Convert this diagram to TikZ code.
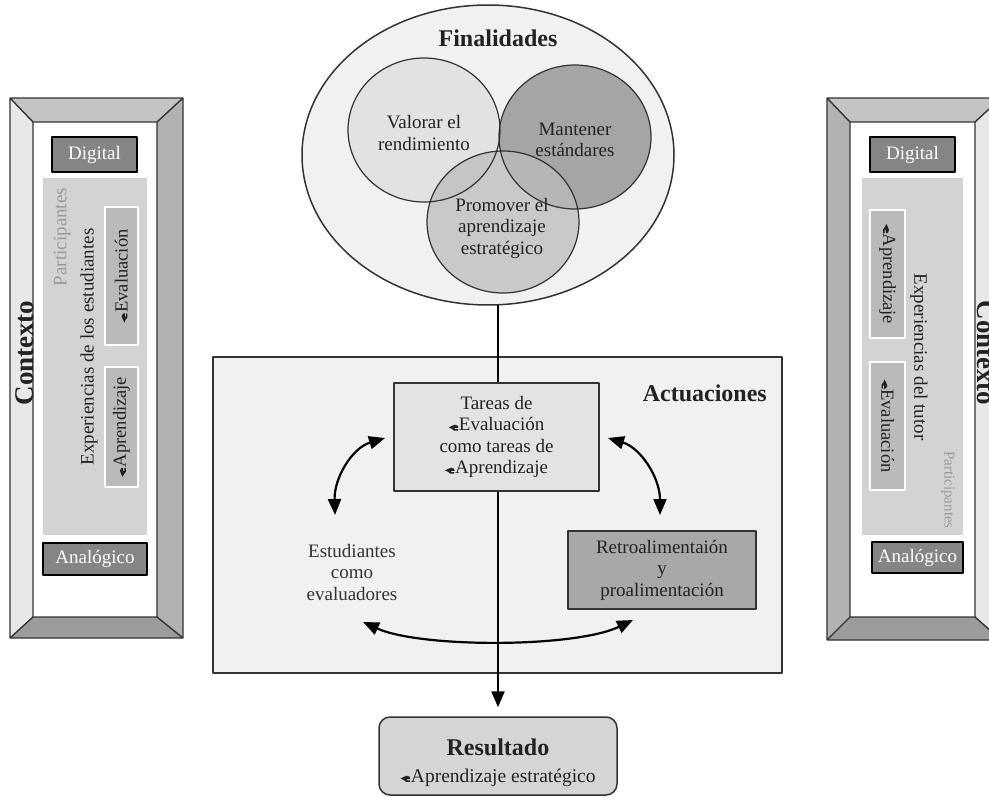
\documentclass[tikz,border=0pt]{standalone}
\usepackage{fontspec}
\setmainfont{Liberation Serif}
\usetikzlibrary{arrows.meta,shapes.geometric}

\definecolor{ink}{HTML}{222222}
\definecolor{edge}{HTML}{333333}
\definecolor{ellfill}{HTML}{F1F1F1}
\definecolor{valfill}{HTML}{E2E2E2}
\definecolor{manfill}{HTML}{A5A5A5}
\definecolor{profill}{HTML}{BCBCBC}
\definecolor{actfill}{HTML}{F0F1F1}
\definecolor{tarfill}{HTML}{E3E3E3}
\definecolor{retfill}{HTML}{A8A8A8}
\definecolor{resfill}{HTML}{D5D5D5}
\definecolor{tagfill}{HTML}{858585}
\definecolor{partfill}{HTML}{D3D3D3}
\definecolor{expfill}{HTML}{BABABA}
\definecolor{palegray}{HTML}{9A9A9A}
\definecolor{bevtop}{HTML}{C4C4C4}
\definecolor{bevlight}{HTML}{E8E8E8}
\definecolor{bevmid}{HTML}{B2B2B2}
\definecolor{bevbot}{HTML}{9C9C9C}

% small e-learning mark placed before some words
\newcommand{\emk}{\tikz[x=1em,y=1em,baseline=0pt]{\fill[ink]
  (0,0.17) .. controls (0.12,0.2) and (0.2,0.32) .. (0.33,0.32)
  .. controls (0.46,0.32) and (0.53,0.24) .. (0.51,0.15) -- (0.29,0.15)
  .. controls (0.31,0.08) and (0.4,0.06) .. (0.5,0.09) -- (0.48,0.01)
  .. controls (0.36,-0.03) and (0.2,0.01) .. (0.14,0.12) -- cycle;}\kern0.01em}

\begin{document}
\begin{tikzpicture}[x=1pt,y=-1pt,line join=round,
  txt/.style={font=\fontsize{19}{21.5}\selectfont, text=ink, align=center, inner sep=0pt},
  ttl/.style={font=\fontsize{24}{28}\selectfont\bfseries, text=ink, inner sep=0pt},
  ctx/.style={font=\fontsize{27}{30}\selectfont\bfseries, text=ink, inner sep=0pt},
  tagbox/.style={draw=black, line width=1.5pt, fill=tagfill, text=white,
    font=\fontsize{19}{21.5}\selectfont, inner sep=0pt},
  expbox/.style={draw=white, line width=1.3pt, fill=expfill, text=ink,
    font=\fontsize{18.5}{21}\selectfont, inner sep=0pt},
  partarea/.style={fill=partfill, draw=none, inner sep=0pt},
  pale/.style={text=palegray, font=\fontsize{19}{21.5}\selectfont, inner sep=0pt},
  frameline/.style={draw=edge, line width=1.4pt},
  boxline/.style={draw=edge, line width=1.5pt},
  conn/.style={line width=2.2pt, draw=black,
    {Triangle[length=16pt,width=13pt]}-{Triangle[length=16pt,width=13pt]}},
  flow/.style={line width=2.4pt, draw=black, -{Triangle[length=16pt,width=13pt]}}
]
\useasboundingbox (0,0) rectangle (989,797);
\clip (0,0) rectangle (989,797);

% ---------- left context frame ----------
\fill[bevtop]   (10,98) -- (183,98) -- (157,122) -- (33,122) -- cycle;
\fill[bevlight] (10,98) -- (33,122) -- (33,617) -- (10,638) -- cycle;
\fill[bevmid]   (183,98) -- (157,122) -- (157,617) -- (183,638) -- cycle;
\fill[bevbot]   (10,638) -- (33,617) -- (157,617) -- (183,638) -- cycle;
\fill[white] (33,122) rectangle (157,617);
\draw[frameline] (10,98) rectangle (183,638) (33,122) rectangle (157,617)
  (10,98) -- (33,122) (183,98) -- (157,122) (10,638) -- (33,617) (183,638) -- (157,617);

\node[partarea, minimum width=104, minimum height=357] (partL) at (95,356.5) {};
\node[tagbox, minimum width=85, minimum height=35] (digL) at (94.5,154.5) {Digital};
\node[tagbox, minimum width=104, minimum height=32] (anaL) at (95,559) {Analógico};
\node[pale, rotate=90] (parttxtL) at (62,237) {Participantes};
\node[txt, rotate=90] (expL) at (89,347) {Experiencias de los estudiantes};
\node[expbox, rotate=90, minimum width=138, minimum height=33] (evL) at (121.5,276) {\emk Evaluación};
\node[expbox, rotate=90, minimum width=120, minimum height=33] (apL) at (121.5,427) {\emk Aprendizaje};
\node[ctx, rotate=90] (ctxL) at (25,353) {Contexto};

% ---------- right context frame ----------
\fill[bevtop]   (827,98) -- (1001,98) -- (975,122) -- (850,122) -- cycle;
\fill[bevmid]   (827,98) -- (850,122) -- (850,617) -- (827,640) -- cycle;
\fill[bevlight] (1001,98) -- (975,122) -- (975,617) -- (1001,640) -- cycle;
\fill[bevbot]   (827,640) -- (850,617) -- (975,617) -- (1001,640) -- cycle;
\fill[white] (850,122) rectangle (975,617);
\draw[frameline] (827,98) rectangle (1001,640) (850,122) rectangle (975,617)
  (827,98) -- (850,122) (1001,98) -- (975,122) (827,640) -- (850,617) (1001,640) -- (975,617);

\node[partarea, minimum width=101, minimum height=357] (partR) at (912.5,356.5) {};
\node[tagbox, minimum width=85, minimum height=35] (digR) at (912.5,154.5) {Digital};
\node[tagbox, minimum width=91, minimum height=31] (anaR) at (917.5,557.5) {Analógico};
\node[expbox, rotate=-90, minimum width=128, minimum height=35] (apR) at (887.5,274) {\emk Aprendizaje};
\node[expbox, rotate=-90, minimum width=128, minimum height=35] (evR) at (887.5,426) {\emk Evaluación};
\node[txt, rotate=-90] (expR) at (919,357) {Experiencias del tutor};
\node[pale, rotate=-90, font=\fontsize{15}{18}\selectfont] (parttxtR) at (948,490) {Participantes};
\node[ctx, rotate=-90] (ctxR) at (986,353) {Contexto};

% ---------- purposes ----------
\filldraw[fill=ellfill, draw=edge, line width=1.5pt] (488,155) ellipse [x radius=186, y radius=150];
\fill[valfill] (424,130) ellipse [x radius=76, y radius=72];
\fill[manfill] (575,137) ellipse [x radius=76, y radius=72];
\fill[profill, fill opacity=0.75] (503,222) ellipse [x radius=76, y radius=71];
\draw[edge, line width=1.2pt] (424,130) ellipse [x radius=76, y radius=72]
  (575,137) ellipse [x radius=76, y radius=72]
  (503,222) ellipse [x radius=76, y radius=71];
\node[ttl] (fin) at (498,38) {Finalidades};
\node[txt] (valT) at (424,133) {Valorar el\\rendimiento};
\node[txt] (manT) at (575,140) {Mantener\\estándares};
\node[txt] (proT) at (502,228) {Promover el\\aprendizaje\\estratégico};

% ---------- actions ----------
\node[boxline, fill=actfill, minimum width=569, minimum height=316] (act) at (497.5,515) {};
\node[ttl, anchor=east] (actT) at (767,393) {Actuaciones};

\node[boxline, rounded corners=11pt, fill=resfill, minimum width=238, minimum height=78] (res) at (498,756) {};
\node[ttl, anchor=base] (resT) at (498,755) {Resultado};
\node[txt, anchor=base, font=\fontsize{19.5}{22}\selectfont] (resS) at (498,782) {\emk Aprendizaje estratégico};

\coordinate (finBottom) at (498,305);
\draw[flow, shorten >=9pt] (finBottom) -- (finBottom |- res.north);

\node[boxline, fill=tarfill, txt, minimum width=205, minimum height=108] (tar) at (496.5,437)
  {Tareas de\\\emk Evaluación\\como tareas de\\\emk Aprendizaje};
\node[boxline, fill=retfill, txt, minimum width=188, minimum height=78] (ret) at (662,570)
  {Retroalimentaión\\y\\proalimentación};
\node[txt, text=edge] (est) at (352,572) {Estudiantes\\como\\evaluadores};

\coordinate (la1) at (385,438);
\coordinate (la2) at (335,515);
\coordinate (ra1) at (608,438);
\coordinate (ra2) at (660,515);
\coordinate (ba1) at (363,622);
\coordinate (ba2) at (633,620);
\draw[conn] (la1) .. controls (352,448) and (334,478) .. (la2);
\draw[conn] (ra1) .. controls (641,448) and (660,478) .. (ra2);
\draw[conn] (ba1) .. controls (420,648) and (575,648) .. (ba2);

\end{tikzpicture}
\end{document}
